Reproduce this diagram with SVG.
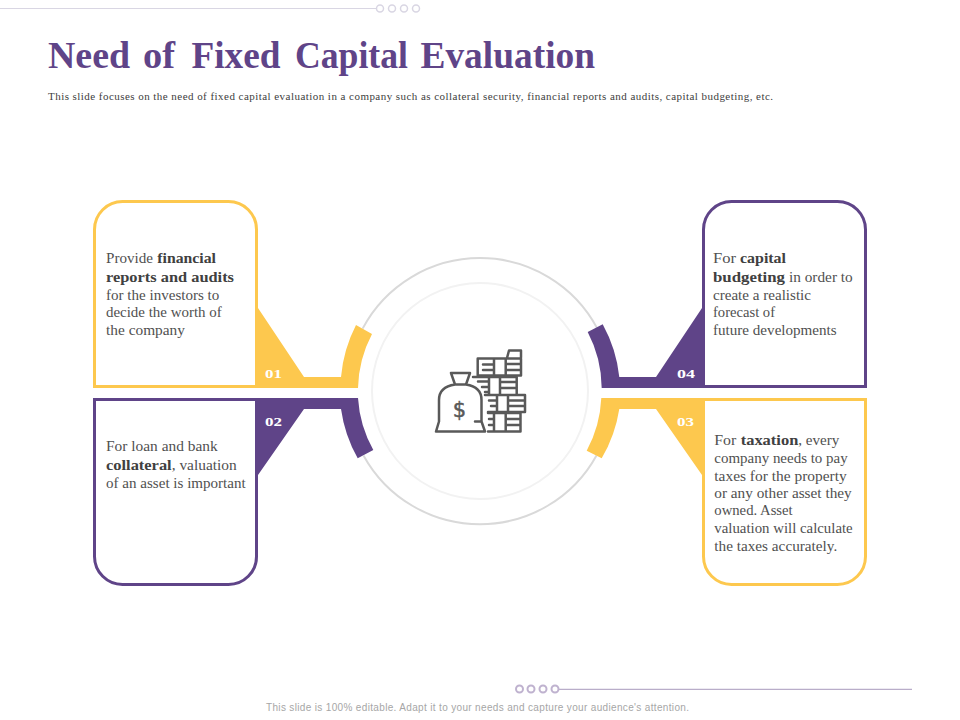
<svg xmlns="http://www.w3.org/2000/svg" width="960" height="720" viewBox="0 0 960 720">
<style>
.y{fill:#FDC84E}.p{fill:#5F4488}
.by{fill:#fff;stroke:#FDC84E;stroke-width:3}.bp{fill:#fff;stroke:#5F4488;stroke-width:3}
.t{font-family:"Liberation Serif",serif;font-size:14.500px;fill:#505050}
.b{font-family:"Liberation Serif",serif;font-size:14.500px;font-weight:700;fill:#404040}
.n{font-family:"Liberation Serif",serif;font-size:13.500px;font-weight:700;fill:#fff}
.h{font-family:"Liberation Serif",serif;font-size:37px;font-weight:700;fill:#5F4488}
.dt{fill:#fff;stroke:#d9d6e3;stroke-width:1.500}.db{fill:#fff;stroke:#bfb2cf;stroke-width:2}
.i{fill:none;stroke:#595959;stroke-width:2.500;stroke-linejoin:round;stroke-linecap:round}
</style>
<rect width="960" height="720" fill="#fff"/>
<g id="header">
<path d="M0 8.500H376" stroke="#d9d6e3" stroke-width="1"/>
<circle class="dt" cx="380" cy="8.500" r="3.500"/><circle class="dt" cx="392" cy="8.500" r="3.500"/><circle class="dt" cx="404" cy="8.500" r="3.500"/><circle class="dt" cx="416" cy="8.500" r="3.500"/>
<text class="h" x="48" y="68" textLength="82" lengthAdjust="spacingAndGlyphs">Need</text><text class="h" x="143" y="68" textLength="32" lengthAdjust="spacingAndGlyphs">of</text><text class="h" x="191.500" y="68" textLength="89" lengthAdjust="spacingAndGlyphs">Fixed</text><text class="h" x="295" y="68" textLength="113" lengthAdjust="spacingAndGlyphs">Capital</text><text class="h" x="420.500" y="68" textLength="174.500" lengthAdjust="spacingAndGlyphs">Evaluation</text>
<text x="48" y="100" font-family="'Liberation Serif',serif" font-size="11" fill="#404040" textLength="725">This slide focuses on the need of fixed capital evaluation in a company such as collateral security, financial reports and audits, capital budgeting, etc.</text>
</g>
<g id="rings" fill="none">
<path d="M362.600 328.600A133 133 0 0 1 597.400 328.600" stroke="#d9d9d9" stroke-width="2"/>
<path d="M363.500 455.400A133 133 0 0 0 596.500 455.400" stroke="#d9d9d9" stroke-width="2"/>
<circle cx="480" cy="391" r="108" stroke="#f2f2f2" stroke-width="2"/>
</g>
<g id="connectors">
<path class="y" d="M250 388V298L258 308L304 377H341A140 140 0 0 1 356 325L372 334A122 122 0 0 0 358 388Z"/>
<path class="p" d="M250 398V485L258 475L304 409H341A140 140 0 0 0 357.700 458.300L373.300 450A122 122 0 0 1 358 398Z"/>
<path class="p" d="M710 388V298L702 308L656 377H619.300A140 140 0 0 0 602.700 324.300L587.700 332A122 122 0 0 1 601.700 388Z"/>
<path class="y" d="M710 398V485L702 475L656 409H619.300A140 140 0 0 1 601.700 458.300L586.700 450.700A122 122 0 0 0 601.300 398Z"/>
</g>
<g id="node-01">
<path class="by" d="M94.500 386.500V229.500A28 28 0 0 1 122.500 201.500H228.500A28 28 0 0 1 256.500 229.500V386.500Z"/>
<text class="n" x="265" y="378" textLength="17" lengthAdjust="spacingAndGlyphs">01</text>
<text class="t" x="106" y="263" textLength="47" lengthAdjust="spacingAndGlyphs">Provide</text><text class="b" x="157.300" y="263" textLength="58.700" lengthAdjust="spacingAndGlyphs">financial</text>
<text class="b" x="106" y="282" textLength="128" lengthAdjust="spacingAndGlyphs">reports and audits</text>
<text class="t" x="106" y="300" textLength="113.300" lengthAdjust="spacingAndGlyphs">for the investors to</text>
<text class="t" x="106" y="317" textLength="115.700" lengthAdjust="spacingAndGlyphs">decide the worth of</text>
<text class="t" x="106" y="335" textLength="79" lengthAdjust="spacingAndGlyphs">the company</text>
</g>
<g id="node-02">
<path class="bp" d="M94.500 399.500V556.500A28 28 0 0 0 122.500 584.500H228.500A28 28 0 0 0 256.500 556.500V399.500Z"/>
<text class="n" x="265" y="426" textLength="17" lengthAdjust="spacingAndGlyphs">02</text>
<text class="t" x="106" y="451" textLength="111.700" lengthAdjust="spacingAndGlyphs">For loan and bank</text>
<text class="b" x="106" y="470" textLength="65.700" lengthAdjust="spacingAndGlyphs">collateral</text><text class="t" x="171.700" y="470" textLength="65" lengthAdjust="spacingAndGlyphs">, valuation</text>
<text class="t" x="106" y="488" textLength="139.700" lengthAdjust="spacingAndGlyphs">of an asset is important</text>
</g>
<g id="node-04">
<path class="bp" d="M703.500 386.500V229.500A28 28 0 0 1 731.500 201.500H837.500A28 28 0 0 1 865.500 229.500V386.500Z"/>
<text class="n" x="677" y="378" textLength="18" lengthAdjust="spacingAndGlyphs">04</text>
<text class="t" x="713" y="263" textLength="23" lengthAdjust="spacingAndGlyphs">For</text><text class="b" x="740" y="263" textLength="46" lengthAdjust="spacingAndGlyphs">capital</text>
<text class="b" x="713" y="282" textLength="72" lengthAdjust="spacingAndGlyphs">budgeting</text><text class="t" x="789" y="282" textLength="63.700" lengthAdjust="spacingAndGlyphs">in order to</text>
<text class="t" x="713" y="300" textLength="98" lengthAdjust="spacingAndGlyphs">create a realistic</text>
<text class="t" x="713" y="317" textLength="62" lengthAdjust="spacingAndGlyphs">forecast of</text>
<text class="t" x="713" y="335" textLength="123.700" lengthAdjust="spacingAndGlyphs">future developments</text>
</g>
<g id="node-03">
<path class="by" d="M703.500 399.500V556.500A28 28 0 0 0 731.500 584.500H837.500A28 28 0 0 0 865.500 556.500V399.500Z"/>
<text class="n" x="677" y="426" textLength="17" lengthAdjust="spacingAndGlyphs">03</text>
<text class="t" x="714.300" y="445" textLength="22" lengthAdjust="spacingAndGlyphs">For</text><text class="b" x="740.700" y="445" textLength="57.600" lengthAdjust="spacingAndGlyphs">taxation</text><text class="t" x="798.300" y="445" textLength="41" lengthAdjust="spacingAndGlyphs">, every</text>
<text class="t" x="714.300" y="463" textLength="133.400" lengthAdjust="spacingAndGlyphs">company needs to pay</text>
<text class="t" x="714.300" y="481" textLength="132.400" lengthAdjust="spacingAndGlyphs">taxes for the property</text>
<text class="t" x="714.300" y="498" textLength="137.400" lengthAdjust="spacingAndGlyphs">or any other asset they</text>
<text class="t" x="714.300" y="515" textLength="78.400" lengthAdjust="spacingAndGlyphs">owned. Asset</text>
<text class="t" x="714.300" y="533" textLength="138.400" lengthAdjust="spacingAndGlyphs">valuation will calculate</text>
<text class="t" x="714.300" y="551" textLength="123" lengthAdjust="spacingAndGlyphs">the taxes accurately.</text>
</g>
<g id="center-icon">
<path class="i" d="M455 384.500L451 373H470L466 384.500M455 384.500H466M455 384.500C445 386 439 391 439 400V421.500L436 431.500H485L481.500 421.500V400C481.500 391 476 386 466 384.500M475 421.500H481.500"/>
<text x="459.500" y="417" text-anchor="middle" font-family="'DejaVu Sans',sans-serif" font-size="21" fill="#595959" stroke="#595959" stroke-width="0.500">$</text>
<path class="i" d="M477.700 358.500H521V375.500H477.700ZM494 358.500V375.500M505.700 358.500V375.500M483 364.500H494M483 370H494M505.700 364H521M505.700 370H521M507 358L509 350.500H521V357.500"/>
<path class="i" d="M473 377H516.700V394M473 377H478M478 381.500H489M482 387H489M485 392H489M489 377V394M500 377V394M500 382H516.700M500 388H516.700"/>
<path class="i" d="M485 395H525V412H488M497 395V412M508 395V412M489 400.500H497M491 406H497M508 400.500H525M508 406H525"/>
<path class="i" d="M488 413H520.500V431.500H488M494 413V431.500M505.700 413V431.500M489 419H494M489 425H494M505.700 419H520.500M505.700 425H520.500"/>
</g>
<g id="footer">
<path d="M559 689.300H912" stroke="#b9adc9" stroke-width="1.200"/>
<circle class="db" cx="519.500" cy="689" r="3.500"/><circle class="db" cx="531" cy="689" r="3.500"/><circle class="db" cx="543" cy="689" r="3.500"/><circle class="db" cx="555" cy="689" r="3.500"/>
<text x="266" y="711" font-family="'Liberation Sans',sans-serif" font-size="10" fill="#a6a6a6" textLength="423">This slide is 100% editable. Adapt it to your needs and capture your audience's attention.</text>
</g>
</svg>
